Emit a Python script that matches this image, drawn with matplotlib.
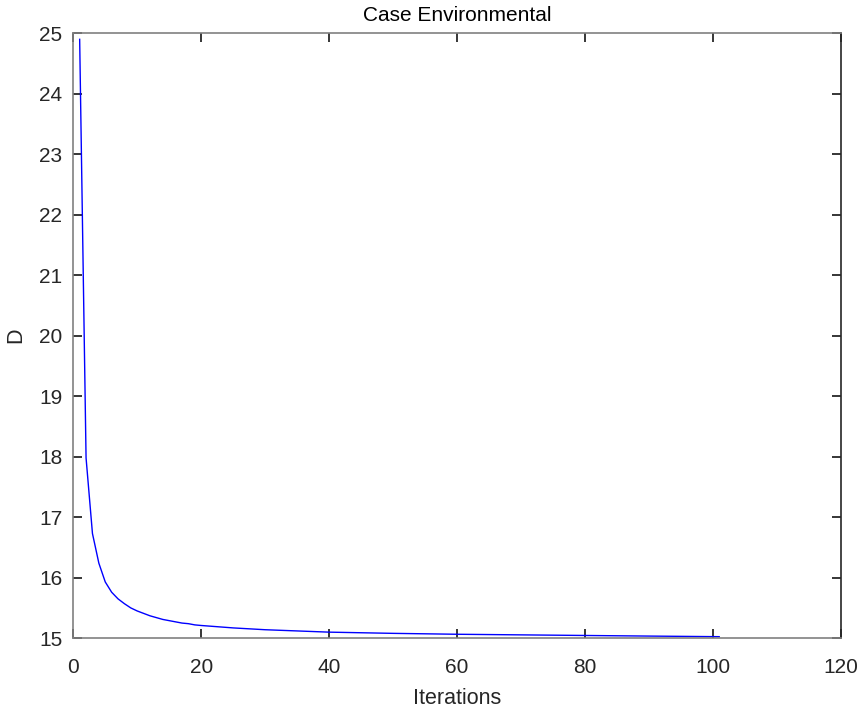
import matplotlib.pyplot as plt

plt.rcParams['font.family'] = ['Liberation Sans', 'DejaVu Sans']

# values
iters = [1, 2, 3, 4, 5, 6, 7, 8, 9, 10, 11, 12, 13, 14, 15, 16, 17, 18, 19, 20,
         25, 30, 35, 40, 50, 60, 70, 80, 90, 101]
d_vals = [24.90, 17.98, 16.73, 16.24, 15.93, 15.76, 15.65, 15.57, 15.50, 15.45,
          15.41, 15.37, 15.34, 15.31, 15.29, 15.27, 15.25, 15.24, 15.22, 15.21,
          15.17, 15.14, 15.12, 15.10, 15.08, 15.065, 15.055, 15.045, 15.035, 15.025]

x_ticks = [0, 20, 40, 60, 80, 100, 120]
y_ticks = [15, 16, 17, 18, 19, 20, 21, 22, 23, 24, 25]

fig = plt.figure(figsize=(8.62, 7.11), dpi=100)
ax = fig.add_axes([0.085, 0.1024, 0.8903, 0.8508])
ax.plot(iters, d_vals, color='#0000ff', linewidth=1.0)

ax.set_xlim(0, 120)
ax.set_ylim(15, 25)
ax.set_xticks(x_ticks)
ax.set_yticks(y_ticks)
ax.tick_params(direction='in', top=True, right=True, length=6.5, width=1.3,
               color='#262626', labelcolor='#262626', labelsize=15)
ax.tick_params(axis='x', pad=14)
ax.tick_params(axis='y', pad=8)
for s in ax.spines.values():
    s.set_color('#808080')
    s.set_linewidth(1.2)
ax.spines['right'].set_color('#262626')

ax.set_title('Case Environmental', fontsize=15, color='black', pad=9)
ax.set_xlabel('Iterations', fontsize=15.5, color='#262626', labelpad=8)
ax.set_ylabel('D', fontsize=15.5, color='#262626', labelpad=9)

plt.savefig('out.png', dpi=100)
